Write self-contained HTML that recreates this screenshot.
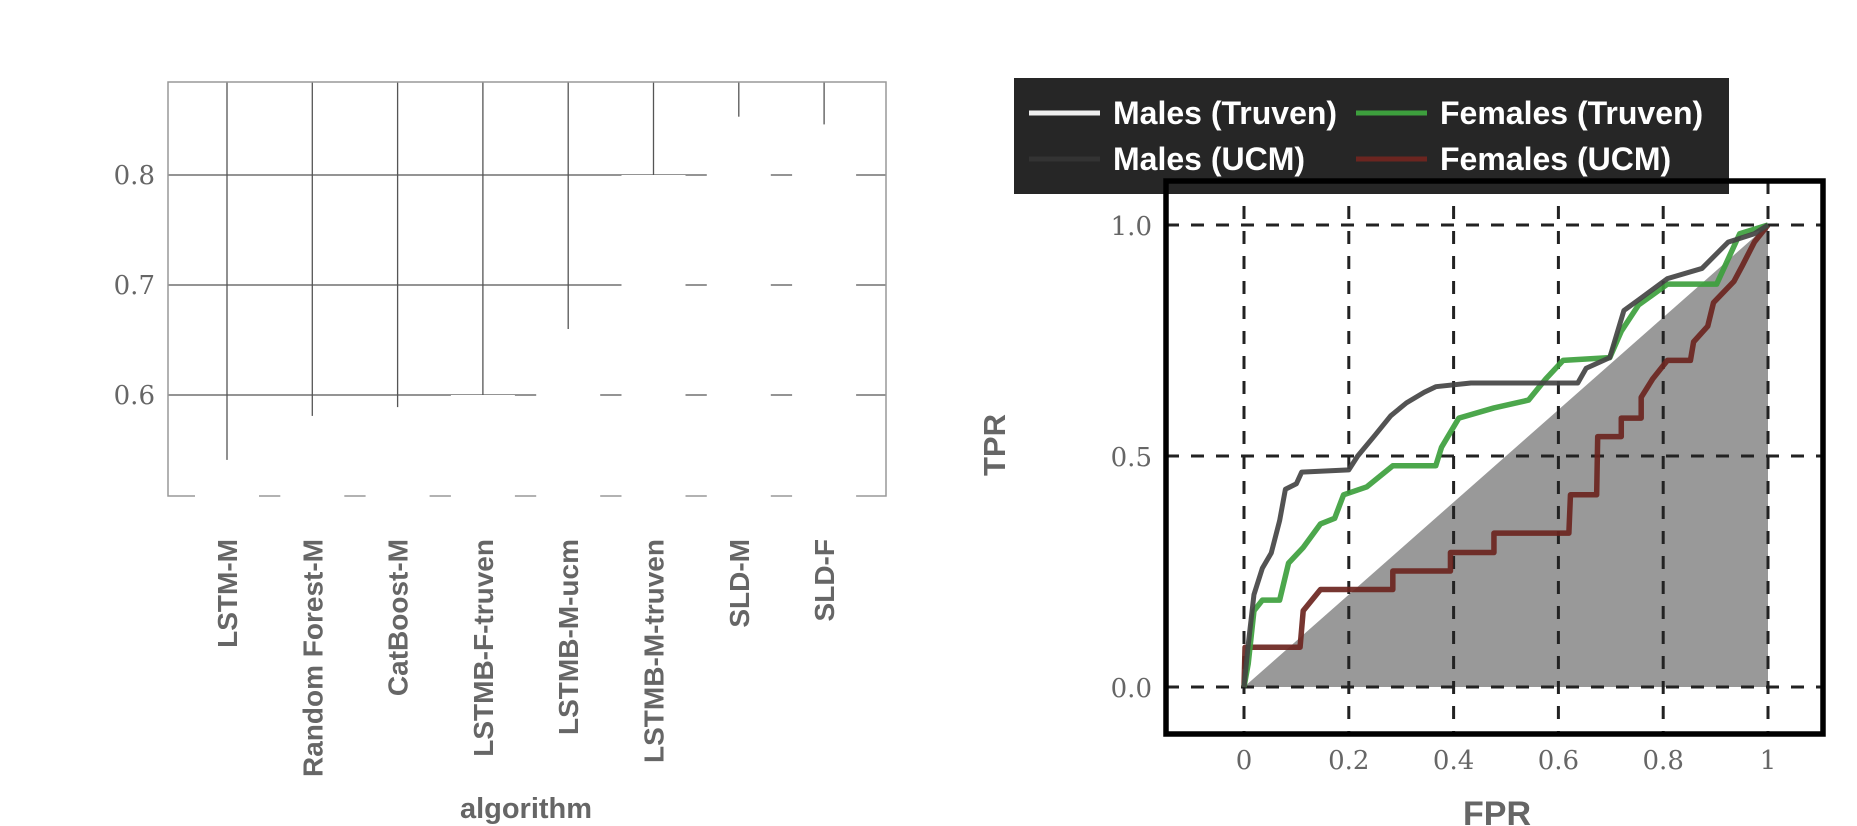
<!DOCTYPE html>
<html><head><meta charset="utf-8"><style>
body{margin:0;background:#fff}
svg{display:block}
.tl{font-family:"DejaVu Serif","Liberation Serif",serif;fill:#666;font-size:26px}
.bl{font-family:"Liberation Sans",sans-serif;font-weight:bold;fill:#666}
.lg{font-family:"Liberation Sans",sans-serif;font-weight:bold;fill:#fff;font-size:32px}
</style></head><body>
<svg id="root" width="1857" height="826" viewBox="0 0 1857 826" xmlns="http://www.w3.org/2000/svg">
<g id="left"></g>
<g id="right"></g>
</svg>
<script>
const algorithms=["LSTM-M","Random Forest-M","CatBoost-M","LSTMB-F-truven","LSTMB-M-ucm","LSTMB-M-truven","SLD-M","SLD-F"];
const scores=[0.541,0.581,0.589,0.600,0.660,0.800,0.853,0.846];
const leftTicks=[0.6,0.7,0.8];
const fpr=[0,0.2,0.4,0.6,0.8,1];
const fprLabels=["0","0.2","0.4","0.6","0.8","1"];
const tprTicks=[0,0.5,1.0];
const tprLabels=["0.0","0.5","1.0"];
const maleUcmX=[0,0.008,0.019,0.035,0.052,0.068,0.079,0.1,0.11,0.2,0.217,0.25,0.28,0.31,0.344,0.366,0.433,0.637,0.653,0.698,0.725,0.753,0.808,0.874,0.924,0.974,1];
const maleUcmY=[0,0.091,0.2,0.257,0.29,0.36,0.428,0.44,0.465,0.47,0.5,0.545,0.587,0.615,0.638,0.65,0.658,0.658,0.69,0.713,0.815,0.838,0.884,0.906,0.963,0.981,1];
const femTruX=[0,0.008,0.019,0.035,0.068,0.085,0.113,0.146,0.173,0.19,0.234,0.284,0.366,0.377,0.41,0.477,0.543,0.576,0.609,0.698,0.72,0.753,0.808,0.902,0.946,1];
const femTruY=[0,0.05,0.165,0.188,0.188,0.268,0.302,0.353,0.365,0.416,0.433,0.479,0.479,0.519,0.582,0.604,0.621,0.667,0.707,0.713,0.77,0.827,0.872,0.872,0.981,1];
const femUcmX=[0,0.002,0.107,0.113,0.146,0.284,0.284,0.394,0.394,0.477,0.477,0.62,0.623,0.673,0.675,0.72,0.72,0.758,0.758,0.78,0.808,0.852,0.858,0.885,0.896,0.935,0.951,0.974,1];
const femUcmY=[0,0.086,0.086,0.165,0.211,0.211,0.251,0.251,0.291,0.291,0.333,0.333,0.416,0.416,0.542,0.542,0.582,0.582,0.627,0.667,0.707,0.707,0.747,0.781,0.832,0.878,0.912,0.963,1];

const NS="http://www.w3.org/2000/svg";
function mk(p,t,a){const e=document.createElementNS(NS,t);for(const k in a)e.setAttribute(k,a[k]);p.appendChild(e);return e;}

// LEFT CHART
const L=document.getElementById('left');
const lx0=168,lx1=886,ly0=82,ly1=496;
const ly=v=>395-(v-0.6)*1100;
const lx=i=>227+i*85.3;
leftTicks.forEach(t=>{
 const g=mk(L,'line',{x1:lx0,x2:lx1,y1:ly(t),y2:ly(t),stroke:'#555','stroke-width':1.3});
 
 
 const tx=mk(L,'text',{x:155,y:ly(t)+9,'text-anchor':'end',class:'tl'});tx.textContent=t.toFixed(1);
 
 
});
algorithms.forEach((a,i)=>{
 const v=mk(L,'line',{x1:lx(i),x2:lx(i),y1:ly0,y2:ly1,stroke:'#555','stroke-width':1.3});
 
 
});
const fr=mk(L,'rect',{x:lx0,y:ly0,width:lx1-lx0,height:ly1-ly0,fill:'none',stroke:'#999','stroke-width':1.5});


algorithms.forEach((a,i)=>{
 const b=mk(L,'rect',{x:lx(i)-32,y:ly(scores[i]),width:64,height:ly1+2-ly(scores[i]),fill:'#fff'});
 
 
 const t=mk(L,'text',{x:0,y:0,'text-anchor':'end',class:'bl','font-size':28,transform:`translate(${lx(i)+10},539) rotate(-90)`});
 t.textContent=a;
 
 
});
const at=mk(L,'text',{x:526,y:818,'text-anchor':'middle',class:'bl','font-size':29});at.textContent='algorithm';



// RIGHT CHART
const R=document.getElementById('right');
const rx=v=>1244+v*524;
const ry=v=>687-v*462;
const tri=mk(R,'polygon',{points:`${rx(0)},${ry(0)} ${rx(1)},${ry(0)} ${rx(1)},${ry(1)}`,fill:'#999'});


fpr.forEach((v,i)=>{
 const g=mk(R,'line',{x1:rx(v),x2:rx(v),y1:181,y2:734,stroke:'#222','stroke-width':3,'stroke-dasharray':'13 12'});
 
 
 const t=mk(R,'text',{x:rx(v),y:769,'text-anchor':'middle',class:'tl','font-size':29});t.textContent=fprLabels[i];
 
 
});
tprTicks.forEach((v,i)=>{
 const g=mk(R,'line',{x1:1166,x2:1823,y1:ry(v),y2:ry(v),stroke:'#222','stroke-width':3,'stroke-dasharray':'13 12'});
 
 
 const t=mk(R,'text',{x:1152,y:ry(v)+10,'text-anchor':'end',class:'tl','font-size':29});t.textContent=tprLabels[i];
 
 
});
function curve(xs,ys,color,w,name){
 const pts=xs.map((x,i)=>rx(x)+','+ry(ys[i])).join(' ');
 const p=mk(R,'polyline',{points:pts,fill:'none',stroke:color,'stroke-width':w,'stroke-linejoin':'round','stroke-opacity':0.92});
 
 
}
curve(femUcmX,femUcmY,'#6b2520',5.5,'females-ucm-line');
curve(femTruX,femTruY,'#3d9f3d',5.5,'females-truven-line');
curve(maleUcmX,maleUcmY,'#444',5,'males-ucm-line');
const leg=mk(R,'g',{});


mk(leg,'rect',{x:1014,y:78,width:715,height:116,fill:'#262626'});
const entries=[["Males (Truven)","#eee",1029,113],["Males (UCM)","#333",1029,159],["Females (Truven)","#3d9f3d",1356,113],["Females (UCM)","#6b2520",1356,159]];
entries.forEach(e=>{
 const g=mk(leg,'g',{});
 
 
 mk(g,'line',{x1:e[2],x2:e[2]+71,y1:e[3],y2:e[3],stroke:e[1],'stroke-width':5});
 const t=mk(g,'text',{x:e[2]+84,y:e[3]+11,class:'lg'});t.textContent=e[0];
});
const rf=mk(R,'rect',{x:1166,y:181,width:657,height:553,fill:'none',stroke:'#000','stroke-width':5.5});


const yt=mk(R,'text',{x:0,y:0,'text-anchor':'middle',class:'bl','font-size':31,transform:'translate(1005,445) rotate(-90)'});yt.textContent='TPR';


const xt=mk(R,'text',{x:1497,y:825,'text-anchor':'middle',class:'bl','font-size':34});xt.textContent='FPR';


</script>
</body></html>
